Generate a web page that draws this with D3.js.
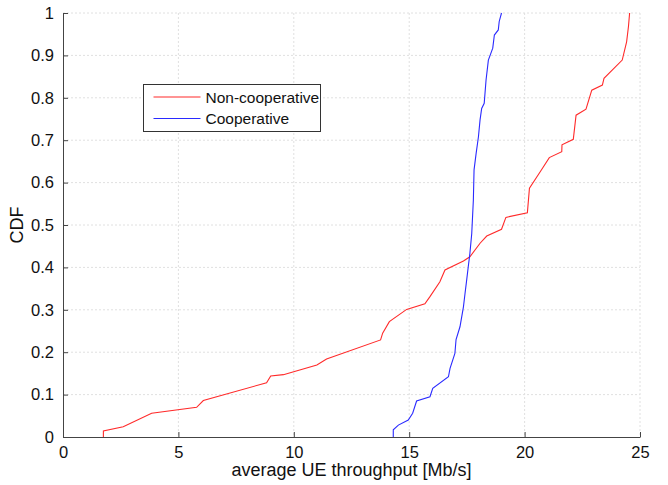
<!DOCTYPE html>
<html>
<head>
<meta charset="utf-8">
<script src="https://cdn.jsdelivr.net/npm/d3@7"></script>
<style>
  body { margin: 0; background: #fff; }
  text { font-family: "Liberation Sans", Arial, sans-serif; fill: #111; }
  .grid line { stroke: #e0e0e0; stroke-dasharray: 2,2; }
  .axis path, .axis line { stroke: #444; }
</style>
</head>
<body>
<svg id="chart" width="668" height="485"></svg>
<script>
// Non-cooperative CDF (throughput Mb/s, cdf)
var nonCoopX = [1.75, 1.75, 2.61, 3.84, 5.79, 6.08, 8.82, 9.0, 9.55, 11.0, 11.42, 13.76, 13.85, 14.14, 14.89, 15.68, 15.9, 16.33, 16.55, 17.35, 17.63, 18.07, 18.36, 19.0, 19.19, 20.12, 20.21, 20.74, 21.07, 21.61, 21.62, 22.11, 22.23, 22.66, 22.91, 23.37, 23.44, 24.23, 24.42, 24.5, 24.55];
var nonCoopY = [0, 0.014, 0.024, 0.056, 0.070, 0.086, 0.128, 0.144, 0.147, 0.170, 0.184, 0.229, 0.245, 0.272, 0.301, 0.314, 0.331, 0.366, 0.394, 0.415, 0.425, 0.457, 0.474, 0.490, 0.518, 0.529, 0.587, 0.631, 0.659, 0.673, 0.689, 0.702, 0.759, 0.773, 0.818, 0.830, 0.846, 0.889, 0.932, 0.968, 1.0];
// Cooperative CDF
var coopX = [14.31, 14.31, 14.53, 14.96, 15.15, 15.32, 15.9, 16.02, 16.7, 16.77, 16.98, 17.03, 17.2, 17.35, 17.42, 17.49, 17.56, 17.63, 17.71, 17.78, 17.81, 17.9, 18.0, 18.07, 18.14, 18.25, 18.33, 18.43, 18.62, 18.69, 18.86, 18.9, 19.0];
var coopY = [0, 0.017, 0.028, 0.040, 0.056, 0.085, 0.095, 0.115, 0.142, 0.162, 0.197, 0.230, 0.260, 0.307, 0.339, 0.370, 0.402, 0.433, 0.480, 0.559, 0.630, 0.669, 0.708, 0.748, 0.775, 0.787, 0.842, 0.889, 0.917, 0.948, 0.960, 0.980, 1.0];

var xTicks = [0, 5, 10, 15, 20, 25];
var yTicks = [0, 0.1, 0.2, 0.3, 0.4, 0.5, 0.6, 0.7, 0.8, 0.9, 1];
var seriesNames = ["Non-cooperative", "Cooperative"];
var seriesColors = ["#ff2a2a", "#2a2aff"];

var svg = d3.select("#chart");
var margin = {top: 13, right: 28, bottom: 48, left: 63},
    width = 668 - margin.left - margin.right,
    height = 485 - margin.top - margin.bottom,
    g = svg.append("g").attr("transform", "translate(" + margin.left + "," + margin.top + ")");

var x = d3.scaleLinear().domain([0, 25]).range([0, width]);
var y = d3.scaleLinear().domain([0, 1]).range([height, 0]);

// grid
g.append("g").attr("class", "grid")
  .selectAll("line.v").data(xTicks.slice(1)).enter().append("line")
  .attr("x1", function(d) { return x(d); }).attr("x2", function(d) { return x(d); })
  .attr("y1", 0).attr("y2", height);
g.append("g").attr("class", "grid")
  .selectAll("line.h").data(yTicks.slice(1)).enter().append("line")
  .attr("x1", 0).attr("x2", width)
  .attr("y1", function(d) { return y(d); }).attr("y2", function(d) { return y(d); });

// axes, ticks pointing inward
var xAxis = d3.axisBottom(x).tickValues(xTicks).tickSizeInner(-5).tickSizeOuter(0).tickPadding(9)
  .tickFormat(d3.format("d"));
var yAxis = d3.axisLeft(y).tickValues(yTicks).tickSizeInner(-5).tickSizeOuter(0).tickPadding(9)
  .tickFormat(function(d) { return d === 0 || d === 1 ? d3.format("d")(d) : d3.format(".1f")(d); });

g.append("g").attr("class", "axis").attr("transform", "translate(0," + height + ")").call(xAxis)
  .selectAll("text").style("font-size", "16.5px").style("font-family", "Liberation Sans, Arial, sans-serif").attr("fill", "#111");
g.append("g").attr("class", "axis").call(yAxis)
  .selectAll("text").style("font-size", "16.5px").style("font-family", "Liberation Sans, Arial, sans-serif").attr("fill", "#111");

// curves
var line = d3.line()
  .x(function(d) { return x(d[0]); })
  .y(function(d) { return y(d[1]); });

var series = [d3.zip(nonCoopX, nonCoopY), d3.zip(coopX, coopY)];
series.forEach(function(s, i) {
  g.append("path")
    .datum(s)
    .attr("fill", "none")
    .attr("stroke", seriesColors[i])
    .attr("stroke-width", 1.1)
    .attr("d", line);
});

// labels
svg.append("text")
  .attr("x", margin.left + width / 2).attr("y", 476)
  .attr("text-anchor", "middle").style("font-size", "18px")
  .text("average UE throughput [Mb/s]");
svg.append("text")
  .attr("transform", "translate(23," + (margin.top + height / 2) + ") rotate(-90)")
  .attr("text-anchor", "middle").style("font-size", "18px")
  .text("CDF");

// legend
var lg = svg.append("g").attr("transform", "translate(143.5,84.5)");
lg.append("rect").attr("width", 177).attr("height", 47)
  .attr("fill", "#fff").attr("stroke", "#333").attr("stroke-width", 1);
seriesNames.forEach(function(name, i) {
  var yy = 12.5 + i * 21.5;
  lg.append("line").attr("x1", 10).attr("x2", 57).attr("y1", yy).attr("y2", yy)
    .attr("stroke", seriesColors[i]).attr("stroke-width", 1.1);
  lg.append("text").attr("x", 62).attr("y", yy + 5.5).style("font-size", "15.5px").text(name);
});
</script>
</body>
</html>
